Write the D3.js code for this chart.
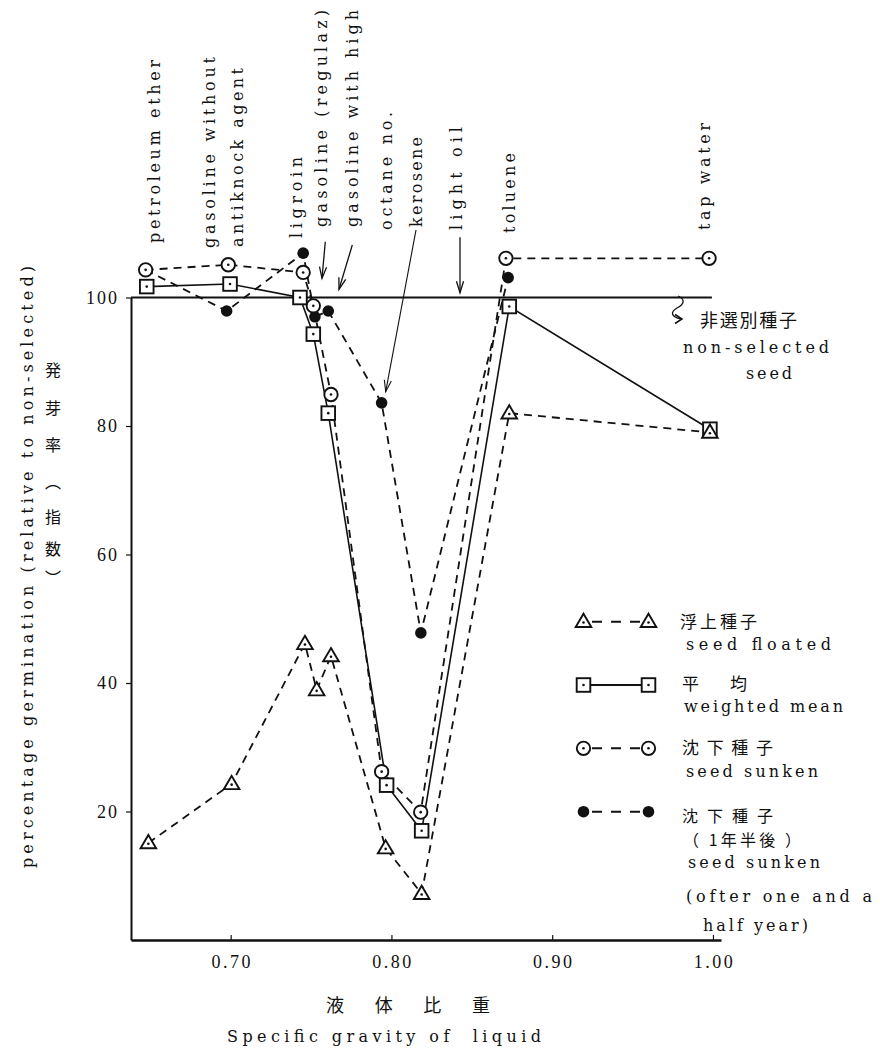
<!DOCTYPE html>
<html>
<head>
<meta charset="utf-8">
<script src="https://cdn.jsdelivr.net/npm/d3@7"></script>
<style>
  html, body { margin: 0; padding: 0; background: #fff; }
  svg { display: block; }
</style>
</head>
<body>
<svg id="chart" width="880" height="1050"></svg>
<script>
// ---- data -------------------------------------------------------------
// Liquids (top annotations, some split over two lines)
const liquidLabels = [
  "petroleum ether", "gasoline without", "antiknock agent", "ligroin",
  "gasoline (regulaz)", "gasoline with high", "octane no.", "kerosene",
  "light oil", "toluene", "tap water"
];

// seed floated (triangles, dashed)
const floatedSG  = [0.6488, 0.7006, 0.7462, 0.7535, 0.7624, 0.7964, 0.8188, 0.8733, 0.9981];
const floatedPct = [15.1, 24.3, 46.1, 38.9, 44.2, 14.3, 7.2, 82.0, 79.0];

// weighted mean (squares, solid)
const meanSG  = [0.6478, 0.6996, 0.7431, 0.7514, 0.7607, 0.7970, 0.8188, 0.8733, 0.9981];
const meanPct = [101.7, 102.1, 100.0, 94.3, 82.0, 24.1, 17.0, 98.6, 79.5];

// seed sunken (open circles, dashed)
const sunkenSG  = [0.6471, 0.6985, 0.7451, 0.7514, 0.7624, 0.7939, 0.8182, 0.8712, 0.9976];
const sunkenPct = [104.3, 105.1, 103.9, 98.7, 84.9, 26.2, 19.9, 106.1, 106.1];

// seed sunken, after one and a half year (filled dots, dashed)
const agedSG  = [0.6471, 0.6975, 0.7451, 0.7524, 0.7607, 0.7939, 0.8183, 0.8726];
const agedPct = [104.3, 97.9, 106.9, 97.0, 97.9, 83.6, 47.8, 103.1];

// non-selected seed reference level
const controlPct = 100;

const xTicks = [0.70, 0.80, 0.90, 1.00];
const xTickLabels = ["0.70", "0.80", "0.90", "1.00"];
const yTicks = [20, 40, 60, 80, 100];

// ---- setup ------------------------------------------------------------
const latin = "DejaVu Serif, serif";
const digits = "Liberation Serif, DejaVu Serif, serif";
const cjk = "Noto Sans CJK JP, Noto Sans CJK SC, sans-serif";
const ink = "#111";

const svg = d3.select("#chart");
const x = d3.scaleLinear().domain([0.638, 1.005]).range([131, 721]);
const y = d3.scaleLinear().domain([0, 100]).range([940, 297.5]);

function txt(g, str, px, py, opts = {}) {
  const t = g.append("text")
    .attr("x", px).attr("y", py)
    .attr("font-family", opts.family || latin)
    .attr("font-size", opts.size || 16)
    .attr("fill", ink)
    .style("white-space", "pre")
    .text(str);
  if (opts.len) t.attr("textLength", opts.len).attr("lengthAdjust", "spacing");
  if (opts.anchor) t.attr("text-anchor", opts.anchor);
  if (opts.transform) t.attr("transform", opts.transform);
  return t;
}

// ---- axes -------------------------------------------------------------
const gy = svg.append("g").attr("transform", `translate(${x.range()[0]},0)`)
  .call(d3.axisLeft(y).tickValues(yTicks).tickSize(5).tickSizeOuter(0).tickPadding(7)
    .tickFormat(d3.format("d")));
gy.select(".domain").attr("stroke", ink).attr("stroke-width", 2);
gy.selectAll(".tick line").attr("stroke", ink).attr("stroke-width", 1.2);
gy.selectAll(".tick text").attr("font-family", digits).attr("font-size", 18)
  .attr("fill", ink).attr("letter-spacing", 2);

const gx = svg.append("g").attr("transform", `translate(0,${y(0)})`)
  .call(d3.axisBottom(x).tickValues(xTicks).tickSize(-5).tickSizeOuter(0).tickPadding(15)
    .tickFormat((d, i) => xTickLabels[i]));
gx.select(".domain").attr("stroke", ink).attr("stroke-width", 2.4);
gx.selectAll(".tick line").attr("stroke", ink).attr("stroke-width", 1.2);
gx.selectAll(".tick text").attr("font-family", digits).attr("font-size", 18)
  .attr("fill", ink).attr("letter-spacing", 2.5).attr("dx", 1);

// non-selected reference line at 100
svg.append("line")
  .attr("x1", x.range()[0]).attr("x2", x(d3.max(meanSG)) + 2)
  .attr("y1", y(controlPct)).attr("y2", y(controlPct))
  .attr("stroke", ink).attr("stroke-width", 2);

// ---- series lines -----------------------------------------------------
const line = d3.line().x(d => x(d[0])).y(d => y(d[1]));
const zip = (a, b) => a.map((v, i) => [v, b[i]]);
const dash = "8,6";

const series = [
  { pts: zip(agedSG, agedPct), dashed: true },
  { pts: zip(sunkenSG, sunkenPct), dashed: true },
  { pts: zip(meanSG, meanPct), dashed: false },
  { pts: zip(floatedSG, floatedPct), dashed: true }
];
series.forEach(s => {
  svg.append("path").datum(s.pts).attr("d", line)
    .attr("fill", "none").attr("stroke", ink)
    .attr("stroke-width", s.dashed ? 1.8 : 1.6)
    .attr("stroke-dasharray", s.dashed ? dash : null);
});

// ---- markers ----------------------------------------------------------
function centreDot(g, cx, cy) {
  g.append("circle").attr("cx", cx).attr("cy", cy).attr("r", 1.3).attr("fill", ink);
}
function mDot(g, cx, cy) {
  g.append("circle").attr("cx", cx).attr("cy", cy).attr("r", 5.8).attr("fill", ink);
}
function mCircle(g, cx, cy) {
  g.append("circle").attr("cx", cx).attr("cy", cy).attr("r", 6.7)
    .attr("fill", "#fff").attr("stroke", ink).attr("stroke-width", 1.9);
  centreDot(g, cx, cy);
}
function mSquare(g, cx, cy) {
  g.append("rect").attr("x", cx - 6.8).attr("y", cy - 6.8).attr("width", 13.6).attr("height", 13.6)
    .attr("fill", "#fff").attr("stroke", ink).attr("stroke-width", 1.9);
  centreDot(g, cx, cy);
}
function mTriangle(g, cx, cy) {
  g.append("path").attr("d", `M${cx},${cy - 8}L${cx + 7.8},${cy + 5.3}L${cx - 7.8},${cy + 5.3}Z`)
    .attr("fill", "#fff").attr("stroke", ink).attr("stroke-width", 1.9).attr("stroke-linejoin", "miter");
  centreDot(g, cx, cy + 0.8);
}

const gm = svg.append("g");
zip(agedSG, agedPct).forEach(d => mDot(gm, x(d[0]), y(d[1])));
zip(sunkenSG, sunkenPct).forEach(d => mCircle(gm, x(d[0]), y(d[1])));
zip(meanSG, meanPct).forEach(d => mSquare(gm, x(d[0]), y(d[1])));
zip(floatedSG, floatedPct).forEach(d => mTriangle(gm, x(d[0]), y(d[1])));

// ---- liquid annotations (rotated) ------------------------------------
const labelLayout = [
  { bx: 160, by: 243, len: 183 },
  { bx: 215, by: 248, len: 191 },
  { bx: 243, by: 247, len: 179 },
  { bx: 302, by: 238, len: 81 },
  { bx: 327, by: 227, len: 217 },
  { bx: 358, by: 227, len: 217 },
  { bx: 392, by: 230, len: 118 },
  { bx: 422, by: 227, len: 90 },
  { bx: 462, by: 230, len: 103 },
  { bx: 515, by: 233, len: 80 },
  { bx: 710, by: 230, len: 107 }
];
const gl = svg.append("g");
liquidLabels.forEach((s, i) => {
  const L = labelLayout[i];
  txt(gl, s, 0, 0, { len: L.len, transform: `translate(${L.bx},${L.by}) rotate(-90)` });
});

function arrow(g, x1, y1, x2, y2, w = 1.3) {
  g.append("line").attr("x1", x1).attr("y1", y1).attr("x2", x2).attr("y2", y2)
    .attr("stroke", ink).attr("stroke-width", w);
  const a = Math.atan2(y2 - y1, x2 - x1), L = 12, h = 0.3;
  const p1 = [x2 - L * Math.cos(a - h), y2 - L * Math.sin(a - h)];
  const p2 = [x2 - L * Math.cos(a + h), y2 - L * Math.sin(a + h)];
  g.append("path").attr("d", `M${p1}L${x2},${y2}L${p2}`)
    .attr("fill", "none").attr("stroke", ink).attr("stroke-width", w);
}
arrow(gl, 325.3, 241.7, 322, 278.3);
arrow(gl, 352.3, 245, 339, 289.3);
arrow(gl, 416, 230, 385.7, 391.7, 1.1);
arrow(gl, 460, 237.3, 460, 292.7);

// curly pointer to the non-selected level
gl.append("path")
  .attr("d", "M678,296 C685,299 685,304 677,308 C670,312 671,317 681,319")
  .attr("fill", "none").attr("stroke", ink).attr("stroke-width", 1.3);
gl.append("path").attr("d", "M675,314.5L682,319L675,323.5")
  .attr("fill", "none").attr("stroke", ink).attr("stroke-width", 1.5);

txt(gl, "非選別種子", 700, 327, { family: cjk, size: 18, len: 97 });
txt(gl, "non-selected", 683, 353, { len: 146 });
txt(gl, "seed", 746, 379, { len: 46 });

// ---- legend -----------------------------------------------------------
const lg = svg.append("g");
function legendRow(cy, marker, dashed) {
  lg.append("line").attr("x1", dashed ? 592 : 583).attr("x2", dashed ? 640 : 649)
    .attr("y1", cy).attr("y2", cy)
    .attr("stroke", ink).attr("stroke-width", dashed ? 2 : 1.8)
    .attr("stroke-dasharray", dashed ? "10,9" : null);
  marker(lg, 583.5, cy);
  marker(lg, 648.5, cy);
}
legendRow(621.7, mTriangle, true);
legendRow(685, mSquare, false);
legendRow(748.3, mCircle, true);
legendRow(811.7, mDot, true);

txt(lg, "浮上種子", 680, 628, { family: cjk, size: 17, len: 77 });
txt(lg, "seed floated", 686, 650, { len: 145 });
txt(lg, "平　均", 682, 690, { family: cjk, size: 17, len: 65 });
txt(lg, "weighted mean", 684, 712, { len: 159 });
txt(lg, "沈 下 種 子", 682, 754, { family: cjk, size: 17, len: 91 });
txt(lg, "seed sunken", 686, 777, { len: 132 });
txt(lg, "沈 下 種 子", 682, 822, { family: cjk, size: 16, len: 91 });
txt(lg, "（ 1年半後 ）", 683, 846, { family: cjk, size: 16, len: 118 });
txt(lg, "seed sunken", 688, 868, { len: 132 });
txt(lg, "(ofter one and a", 686, 902, { len: 186 });
txt(lg, "half year)", 703, 931, { len: 105 });

// ---- axis titles ------------------------------------------------------
txt(svg, "percentage germination (relative to non-selected)", 0, 0,
  { len: 602, transform: "translate(33,868) rotate(-90)" });

const vt = ["発", "芽", "率", "︵", "指", "数", "︶"];
const vy = [370, 407.5, 445, 482, 517, 548.5, 577.5];
vt.forEach((c, i) => txt(svg, c, 53, vy[i] + 6, { family: cjk, size: 16, anchor: "middle" }));

txt(svg, "液体比重", 326, 1012, { family: cjk, size: 18, len: 164 });
txt(svg, "Specific gravity of  liquid", 227, 1042, { len: 314 });
</script>
</body>
</html>
